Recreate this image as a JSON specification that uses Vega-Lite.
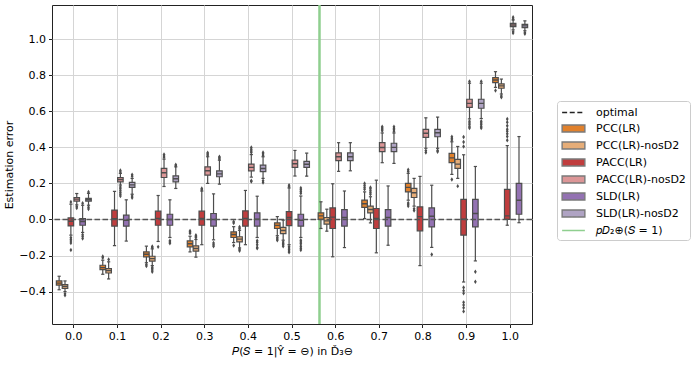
{
  "$schema": "https://vega.github.io/schema/vega-lite/v6.json",
  "width": 480,
  "height": 319,
  "autosize": {"type": "none"},
  "padding": {"left": 52, "top": 5, "right": 166, "bottom": 41},
  "background": "white",
  "config": {
    "view": {"stroke": "#222", "strokeWidth": 1},
    "font": "DejaVu Sans",
    "axis": {
      "labelFont": "DejaVu Sans", "labelFontSize": 11, "labelColor": "#000",
      "titleFont": "DejaVu Sans", "titleFontSize": 11, "titleFontWeight": "normal", "titleColor": "#000",
      "tickColor": "#222", "tickSize": 3.5, "domain": false,
      "gridColor": "#d5d5d5", "gridWidth": 1, "labelPadding": 3
    }
  },
  "datasets": {
    "boxes": [
      {"x": "0.0", "s": "PCC(LR)", "lo": -0.39, "q1": -0.364, "med": -0.353, "q3": -0.341, "hi": -0.315},
      {"x": "0.0", "s": "PCC(LR)-nosD2", "lo": -0.40, "q1": -0.383, "med": -0.372, "q3": -0.361, "hi": -0.341},
      {"x": "0.0", "s": "PACC(LR)", "lo": -0.087, "q1": -0.036, "med": -0.01, "q3": 0.009, "hi": 0.085},
      {"x": "0.0", "s": "PACC(LR)-nosD2", "lo": 0.081, "q1": 0.102, "med": 0.113, "q3": 0.122, "hi": 0.144},
      {"x": "0.0", "s": "SLD(LR)", "lo": -0.072, "q1": -0.032, "med": -0.011, "q3": 0.005, "hi": 0.079},
      {"x": "0.0", "s": "SLD(LR)-nosD2", "lo": 0.079, "q1": 0.102, "med": 0.109, "q3": 0.117, "hi": 0.145},
      {"x": "0.1", "s": "PCC(LR)", "lo": -0.304, "q1": -0.278, "med": -0.267, "q3": -0.254, "hi": -0.226},
      {"x": "0.1", "s": "PCC(LR)-nosD2", "lo": -0.33, "q1": -0.297, "med": -0.283, "q3": -0.272, "hi": -0.235},
      {"x": "0.1", "s": "PACC(LR)", "lo": -0.145, "q1": -0.037, "med": 0.004, "q3": 0.052, "hi": 0.156},
      {"x": "0.1", "s": "PACC(LR)-nosD2", "lo": 0.191, "q1": 0.209, "med": 0.222, "q3": 0.233, "hi": 0.256},
      {"x": "0.1", "s": "SLD(LR)", "lo": -0.12, "q1": -0.037, "med": -0.004, "q3": 0.024, "hi": 0.109},
      {"x": "0.1", "s": "SLD(LR)-nosD2", "lo": 0.14, "q1": 0.178, "med": 0.192, "q3": 0.206, "hi": 0.228},
      {"x": "0.2", "s": "PCC(LR)", "lo": -0.24, "q1": -0.207, "med": -0.193, "q3": -0.18, "hi": -0.148},
      {"x": "0.2", "s": "PCC(LR)-nosD2", "lo": -0.256, "q1": -0.231, "med": -0.217, "q3": -0.204, "hi": -0.163},
      {"x": "0.2", "s": "PACC(LR)", "lo": -0.122, "q1": -0.032, "med": 0.005, "q3": 0.046, "hi": 0.133},
      {"x": "0.2", "s": "PACC(LR)-nosD2", "lo": 0.183, "q1": 0.233, "med": 0.259, "q3": 0.283, "hi": 0.335},
      {"x": "0.2", "s": "SLD(LR)", "lo": -0.1, "q1": -0.032, "med": 0.0, "q3": 0.029, "hi": 0.109},
      {"x": "0.2", "s": "SLD(LR)-nosD2", "lo": 0.172, "q1": 0.209, "med": 0.226, "q3": 0.242, "hi": 0.292},
      {"x": "0.3", "s": "PCC(LR)", "lo": -0.18, "q1": -0.152, "med": -0.135, "q3": -0.119, "hi": -0.093},
      {"x": "0.3", "s": "PCC(LR)-nosD2", "lo": -0.209, "q1": -0.176, "med": -0.161, "q3": -0.146, "hi": -0.111},
      {"x": "0.3", "s": "PACC(LR)", "lo": -0.14, "q1": -0.032, "med": 0.005, "q3": 0.046, "hi": 0.158},
      {"x": "0.3", "s": "PACC(LR)-nosD2", "lo": 0.2, "q1": 0.246, "med": 0.27, "q3": 0.292, "hi": 0.348},
      {"x": "0.3", "s": "SLD(LR)", "lo": -0.113, "q1": -0.037, "med": 0.0, "q3": 0.033, "hi": 0.142},
      {"x": "0.3", "s": "SLD(LR)-nosD2", "lo": 0.196, "q1": 0.237, "med": 0.253, "q3": 0.27, "hi": 0.329},
      {"x": "0.4", "s": "PCC(LR)", "lo": -0.128, "q1": -0.1, "med": -0.083, "q3": -0.069, "hi": -0.04},
      {"x": "0.4", "s": "PCC(LR)-nosD2", "lo": -0.158, "q1": -0.124, "med": -0.109, "q3": -0.096, "hi": -0.06},
      {"x": "0.4", "s": "PACC(LR)", "lo": -0.14, "q1": -0.037, "med": 0.005, "q3": 0.048, "hi": 0.161},
      {"x": "0.4", "s": "PACC(LR)-nosD2", "lo": 0.235, "q1": 0.27, "med": 0.289, "q3": 0.307, "hi": 0.36},
      {"x": "0.4", "s": "SLD(LR)", "lo": -0.1, "q1": -0.037, "med": 0.002, "q3": 0.037, "hi": 0.129},
      {"x": "0.4", "s": "SLD(LR)-nosD2", "lo": 0.228, "q1": 0.265, "med": 0.283, "q3": 0.302, "hi": 0.348},
      {"x": "0.5", "s": "PCC(LR)", "lo": -0.09, "q1": -0.05, "med": -0.033, "q3": -0.019, "hi": 0.016},
      {"x": "0.5", "s": "PCC(LR)-nosD2", "lo": -0.115, "q1": -0.078, "med": -0.061, "q3": -0.044, "hi": -0.004},
      {"x": "0.5", "s": "PACC(LR)", "lo": -0.14, "q1": -0.034, "med": 0.011, "q3": 0.044, "hi": 0.175},
      {"x": "0.5", "s": "PACC(LR)-nosD2", "lo": 0.241, "q1": 0.289, "med": 0.309, "q3": 0.329, "hi": 0.383},
      {"x": "0.5", "s": "SLD(LR)", "lo": -0.1, "q1": -0.037, "med": -0.004, "q3": 0.029, "hi": 0.13},
      {"x": "0.5", "s": "SLD(LR)-nosD2", "lo": 0.24, "q1": 0.289, "med": 0.306, "q3": 0.322, "hi": 0.368},
      {"x": "0.6", "s": "PCC(LR)", "lo": -0.05, "q1": 0.0, "med": 0.02, "q3": 0.037, "hi": 0.098},
      {"x": "0.6", "s": "PCC(LR)-nosD2", "lo": -0.065, "q1": -0.026, "med": -0.008, "q3": 0.011, "hi": 0.057},
      {"x": "0.6", "s": "PACC(LR)", "lo": -0.207, "q1": -0.05, "med": 0.013, "q3": 0.064, "hi": 0.198},
      {"x": "0.6", "s": "PACC(LR)-nosD2", "lo": 0.267, "q1": 0.326, "med": 0.348, "q3": 0.37, "hi": 0.426},
      {"x": "0.6", "s": "SLD(LR)", "lo": -0.156, "q1": -0.037, "med": 0.011, "q3": 0.055, "hi": 0.158},
      {"x": "0.6", "s": "SLD(LR)-nosD2", "lo": 0.27, "q1": 0.326, "med": 0.348, "q3": 0.37, "hi": 0.426},
      {"x": "0.7", "s": "PCC(LR)", "lo": 0.005, "q1": 0.067, "med": 0.087, "q3": 0.107, "hi": 0.153},
      {"x": "0.7", "s": "PCC(LR)-nosD2", "lo": -0.019, "q1": 0.037, "med": 0.055, "q3": 0.074, "hi": 0.126},
      {"x": "0.7", "s": "PACC(LR)", "lo": -0.185, "q1": -0.05, "med": 0.005, "q3": 0.061, "hi": 0.218},
      {"x": "0.7", "s": "PACC(LR)-nosD2", "lo": 0.315, "q1": 0.376, "med": 0.399, "q3": 0.426, "hi": 0.48},
      {"x": "0.7", "s": "SLD(LR)", "lo": -0.143, "q1": -0.037, "med": 0.011, "q3": 0.055, "hi": 0.186},
      {"x": "0.7", "s": "SLD(LR)-nosD2", "lo": 0.311, "q1": 0.376, "med": 0.4, "q3": 0.423, "hi": 0.48},
      {"x": "0.8", "s": "PCC(LR)", "lo": 0.107, "q1": 0.153, "med": 0.178, "q3": 0.2, "hi": 0.256},
      {"x": "0.8", "s": "PCC(LR)-nosD2", "lo": 0.074, "q1": 0.122, "med": 0.148, "q3": 0.172, "hi": 0.228},
      {"x": "0.8", "s": "PACC(LR)", "lo": -0.256, "q1": -0.063, "med": 0.016, "q3": 0.07, "hi": 0.239},
      {"x": "0.8", "s": "PACC(LR)-nosD2", "lo": 0.395, "q1": 0.455, "med": 0.478, "q3": 0.5, "hi": 0.564},
      {"x": "0.8", "s": "SLD(LR)", "lo": -0.155, "q1": -0.041, "med": 0.018, "q3": 0.064, "hi": 0.19},
      {"x": "0.8", "s": "SLD(LR)-nosD2", "lo": 0.395, "q1": 0.459, "med": 0.481, "q3": 0.5, "hi": 0.568},
      {"x": "0.9", "s": "PCC(LR)", "lo": 0.25, "q1": 0.315, "med": 0.342, "q3": 0.367, "hi": 0.431},
      {"x": "0.9", "s": "PCC(LR)-nosD2", "lo": 0.228, "q1": 0.283, "med": 0.307, "q3": 0.333, "hi": 0.405},
      {"x": "0.9", "s": "PACC(LR)", "lo": -0.347, "q1": -0.087, "med": 0.001, "q3": 0.111, "hi": 0.359},
      {"x": "0.9", "s": "PACC(LR)-nosD2", "lo": 0.558, "q1": 0.622, "med": 0.644, "q3": 0.667, "hi": 0.756},
      {"x": "0.9", "s": "SLD(LR)", "lo": -0.23, "q1": -0.041, "med": 0.033, "q3": 0.111, "hi": 0.294},
      {"x": "0.9", "s": "SLD(LR)-nosD2", "lo": 0.56, "q1": 0.617, "med": 0.644, "q3": 0.667, "hi": 0.756},
      {"x": "1.0", "s": "PCC(LR)", "lo": 0.733, "q1": 0.759, "med": 0.774, "q3": 0.787, "hi": 0.82},
      {"x": "1.0", "s": "PCC(LR)-nosD2", "lo": 0.696, "q1": 0.728, "med": 0.741, "q3": 0.752, "hi": 0.779},
      {"x": "1.0", "s": "PACC(LR)", "lo": -0.032, "q1": 0.0, "med": 0.02, "q3": 0.167, "hi": 0.41},
      {"x": "1.0", "s": "PACC(LR)-nosD2", "lo": 1.052, "q1": 1.07, "med": 1.079, "q3": 1.088, "hi": 1.107},
      {"x": "1.0", "s": "SLD(LR)", "lo": -0.018, "q1": 0.029, "med": 0.107, "q3": 0.2, "hi": 0.46},
      {"x": "1.0", "s": "SLD(LR)-nosD2", "lo": 1.047, "q1": 1.064, "med": 1.074, "q3": 1.083, "hi": 1.102}
    ],
    "outliers": [
      {"x": "0.0", "s": "PCC(LR)-nosD2", "v": -0.412}, {"x": "0.0", "s": "PCC(LR)-nosD2", "v": -0.42},
      {"x": "0.0", "s": "PACC(LR)", "v": 0.097}, {"x": "0.0", "s": "PACC(LR)", "v": -0.10}, {"x": "0.0", "s": "PACC(LR)", "v": -0.11}, {"x": "0.0", "s": "PACC(LR)", "v": -0.12}, {"x": "0.0", "s": "PACC(LR)", "v": -0.13}, {"x": "0.0", "s": "PACC(LR)", "v": -0.17},
      {"x": "0.0", "s": "PACC(LR)-nosD2", "v": 0.072}, {"x": "0.0", "s": "PACC(LR)-nosD2", "v": 0.064},
      {"x": "0.0", "s": "SLD(LR)", "v": 0.09}, {"x": "0.0", "s": "SLD(LR)", "v": -0.085}, {"x": "0.0", "s": "SLD(LR)", "v": -0.095}, {"x": "0.0", "s": "SLD(LR)", "v": -0.106},
      {"x": "0.0", "s": "SLD(LR)-nosD2", "v": 0.152}, {"x": "0.0", "s": "SLD(LR)-nosD2", "v": 0.068}, {"x": "0.0", "s": "SLD(LR)-nosD2", "v": 0.058},
      {"x": "0.1", "s": "PCC(LR)", "v": -0.205}, {"x": "0.1", "s": "PCC(LR)", "v": -0.213},
      {"x": "0.1", "s": "PCC(LR)-nosD2", "v": -0.222},
      {"x": "0.1", "s": "PACC(LR)-nosD2", "v": 0.263}, {"x": "0.1", "s": "PACC(LR)-nosD2", "v": 0.272}, {"x": "0.1", "s": "PACC(LR)-nosD2", "v": 0.18}, {"x": "0.1", "s": "PACC(LR)-nosD2", "v": 0.17}, {"x": "0.1", "s": "PACC(LR)-nosD2", "v": 0.16}, {"x": "0.1", "s": "PACC(LR)-nosD2", "v": 0.15}, {"x": "0.1", "s": "PACC(LR)-nosD2", "v": 0.14}, {"x": "0.1", "s": "PACC(LR)-nosD2", "v": 0.13},
      {"x": "0.1", "s": "SLD(LR)-nosD2", "v": 0.24}, {"x": "0.1", "s": "SLD(LR)-nosD2", "v": 0.248}, {"x": "0.1", "s": "SLD(LR)-nosD2", "v": 0.13}, {"x": "0.1", "s": "SLD(LR)-nosD2", "v": 0.12},
      {"x": "0.2", "s": "PCC(LR)", "v": -0.25}, {"x": "0.2", "s": "PCC(LR)", "v": -0.258},
      {"x": "0.2", "s": "PCC(LR)-nosD2", "v": -0.15}, {"x": "0.2", "s": "PCC(LR)-nosD2", "v": -0.155}, {"x": "0.2", "s": "PCC(LR)-nosD2", "v": -0.265}, {"x": "0.2", "s": "PCC(LR)-nosD2", "v": -0.272}, {"x": "0.2", "s": "PCC(LR)-nosD2", "v": -0.28}, {"x": "0.2", "s": "PCC(LR)-nosD2", "v": -0.29},
      {"x": "0.2", "s": "PACC(LR)", "v": -0.152},
      {"x": "0.2", "s": "PACC(LR)-nosD2", "v": 0.345}, {"x": "0.2", "s": "PACC(LR)-nosD2", "v": 0.352}, {"x": "0.2", "s": "PACC(LR)-nosD2", "v": 0.36},
      {"x": "0.2", "s": "SLD(LR)", "v": -0.118}, {"x": "0.2", "s": "SLD(LR)", "v": -0.125}, {"x": "0.2", "s": "SLD(LR)", "v": -0.132},
      {"x": "0.2", "s": "SLD(LR)-nosD2", "v": 0.298}, {"x": "0.2", "s": "SLD(LR)-nosD2", "v": 0.304},
      {"x": "0.3", "s": "PCC(LR)", "v": -0.064}, {"x": "0.3", "s": "PCC(LR)", "v": -0.07}, {"x": "0.3", "s": "PCC(LR)", "v": -0.076},
      {"x": "0.3", "s": "PCC(LR)-nosD2", "v": -0.088}, {"x": "0.3", "s": "PCC(LR)-nosD2", "v": -0.095}, {"x": "0.3", "s": "PCC(LR)-nosD2", "v": -0.1},
      {"x": "0.3", "s": "PACC(LR)", "v": 0.165}, {"x": "0.3", "s": "PACC(LR)", "v": 0.172},
      {"x": "0.3", "s": "PACC(LR)-nosD2", "v": 0.356}, {"x": "0.3", "s": "PACC(LR)-nosD2", "v": 0.363}, {"x": "0.3", "s": "PACC(LR)-nosD2", "v": 0.37},
      {"x": "0.3", "s": "SLD(LR)", "v": -0.13}, {"x": "0.3", "s": "SLD(LR)", "v": -0.14}, {"x": "0.3", "s": "SLD(LR)", "v": -0.148},
      {"x": "0.3", "s": "SLD(LR)-nosD2", "v": 0.336}, {"x": "0.3", "s": "SLD(LR)-nosD2", "v": 0.342}, {"x": "0.3", "s": "SLD(LR)-nosD2", "v": 0.348},
      {"x": "0.4", "s": "PCC(LR)", "v": -0.012}, {"x": "0.4", "s": "PCC(LR)", "v": -0.02}, {"x": "0.4", "s": "PCC(LR)", "v": -0.145},
      {"x": "0.4", "s": "PCC(LR)-nosD2", "v": -0.042}, {"x": "0.4", "s": "PCC(LR)-nosD2", "v": -0.05}, {"x": "0.4", "s": "PCC(LR)-nosD2", "v": -0.165}, {"x": "0.4", "s": "PCC(LR)-nosD2", "v": -0.173},
      {"x": "0.4", "s": "PACC(LR)-nosD2", "v": 0.372}, {"x": "0.4", "s": "PACC(LR)-nosD2", "v": 0.38}, {"x": "0.4", "s": "PACC(LR)-nosD2", "v": 0.39}, {"x": "0.4", "s": "PACC(LR)-nosD2", "v": 0.4}, {"x": "0.4", "s": "PACC(LR)-nosD2", "v": 0.215}, {"x": "0.4", "s": "PACC(LR)-nosD2", "v": 0.21},
      {"x": "0.4", "s": "SLD(LR)", "v": -0.118}, {"x": "0.4", "s": "SLD(LR)", "v": -0.127}, {"x": "0.4", "s": "SLD(LR)", "v": -0.14}, {"x": "0.4", "s": "SLD(LR)", "v": -0.155}, {"x": "0.4", "s": "SLD(LR)", "v": -0.16},
      {"x": "0.4", "s": "SLD(LR)-nosD2", "v": 0.356}, {"x": "0.4", "s": "SLD(LR)-nosD2", "v": 0.364}, {"x": "0.4", "s": "SLD(LR)-nosD2", "v": 0.372}, {"x": "0.4", "s": "SLD(LR)-nosD2", "v": 0.215}, {"x": "0.4", "s": "SLD(LR)-nosD2", "v": 0.205},
      {"x": "0.5", "s": "PCC(LR)", "v": -0.1}, {"x": "0.5", "s": "PCC(LR)", "v": -0.108}, {"x": "0.5", "s": "PCC(LR)", "v": -0.115},
      {"x": "0.5", "s": "PCC(LR)-nosD2", "v": -0.125}, {"x": "0.5", "s": "PCC(LR)-nosD2", "v": -0.133}, {"x": "0.5", "s": "PCC(LR)-nosD2", "v": -0.14}, {"x": "0.5", "s": "PCC(LR)-nosD2", "v": -0.148},
      {"x": "0.5", "s": "PACC(LR)", "v": 0.183}, {"x": "0.5", "s": "PACC(LR)", "v": 0.19}, {"x": "0.5", "s": "PACC(LR)", "v": -0.15}, {"x": "0.5", "s": "PACC(LR)", "v": -0.158}, {"x": "0.5", "s": "PACC(LR)", "v": -0.166}, {"x": "0.5", "s": "PACC(LR)", "v": -0.175}, {"x": "0.5", "s": "PACC(LR)", "v": -0.182},
      {"x": "0.5", "s": "SLD(LR)", "v": 0.145}, {"x": "0.5", "s": "SLD(LR)", "v": 0.155}, {"x": "0.5", "s": "SLD(LR)", "v": 0.165}, {"x": "0.5", "s": "SLD(LR)", "v": 0.175},
      {"x": "0.5", "s": "SLD(LR)", "v": -0.115}, {"x": "0.5", "s": "SLD(LR)", "v": -0.125}, {"x": "0.5", "s": "SLD(LR)", "v": -0.135}, {"x": "0.5", "s": "SLD(LR)", "v": -0.148}, {"x": "0.5", "s": "SLD(LR)", "v": -0.16}, {"x": "0.5", "s": "SLD(LR)", "v": -0.17},
      {"x": "0.7", "s": "PCC(LR)", "v": 0.168}, {"x": "0.7", "s": "PCC(LR)", "v": 0.178}, {"x": "0.7", "s": "PCC(LR)", "v": 0.188}, {"x": "0.7", "s": "PCC(LR)", "v": 0.2},
      {"x": "0.7", "s": "PCC(LR)-nosD2", "v": 0.14}, {"x": "0.7", "s": "PCC(LR)-nosD2", "v": 0.15}, {"x": "0.7", "s": "PCC(LR)-nosD2", "v": 0.16}, {"x": "0.7", "s": "PCC(LR)-nosD2", "v": 0.17}, {"x": "0.7", "s": "PCC(LR)-nosD2", "v": 0.178},
      {"x": "0.7", "s": "PACC(LR)-nosD2", "v": 0.492}, {"x": "0.7", "s": "PACC(LR)-nosD2", "v": 0.5}, {"x": "0.7", "s": "PACC(LR)-nosD2", "v": 0.508}, {"x": "0.7", "s": "PACC(LR)-nosD2", "v": 0.515},
      {"x": "0.7", "s": "SLD(LR)-nosD2", "v": 0.49}, {"x": "0.7", "s": "SLD(LR)-nosD2", "v": 0.498}, {"x": "0.7", "s": "SLD(LR)-nosD2", "v": 0.506}, {"x": "0.7", "s": "SLD(LR)-nosD2", "v": 0.514},
      {"x": "0.8", "s": "PCC(LR)", "v": 0.266}, {"x": "0.8", "s": "PCC(LR)", "v": 0.276}, {"x": "0.8", "s": "PCC(LR)", "v": 0.092}, {"x": "0.8", "s": "PCC(LR)", "v": 0.084}, {"x": "0.8", "s": "PCC(LR)", "v": 0.075},
      {"x": "0.8", "s": "PCC(LR)-nosD2", "v": 0.06}, {"x": "0.8", "s": "PCC(LR)-nosD2", "v": 0.05},
      {"x": "0.8", "s": "PACC(LR)-nosD2", "v": 0.382}, {"x": "0.8", "s": "PACC(LR)-nosD2", "v": 0.372},
      {"x": "0.8", "s": "SLD(LR)", "v": -0.194},
      {"x": "0.8", "s": "SLD(LR)-nosD2", "v": 0.383}, {"x": "0.8", "s": "SLD(LR)-nosD2", "v": 0.376},
      {"x": "0.9", "s": "PCC(LR)", "v": 0.441}, {"x": "0.9", "s": "PCC(LR)", "v": 0.45}, {"x": "0.9", "s": "PCC(LR)", "v": 0.459}, {"x": "0.9", "s": "PCC(LR)", "v": 0.222},
      {"x": "0.9", "s": "PCC(LR)-nosD2", "v": 0.185},
      {"x": "0.9", "s": "PACC(LR)", "v": 0.405}, {"x": "0.9", "s": "PACC(LR)", "v": 0.43}, {"x": "0.9", "s": "PACC(LR)", "v": 0.458}, {"x": "0.9", "s": "PACC(LR)", "v": -0.378}, {"x": "0.9", "s": "PACC(LR)", "v": -0.395}, {"x": "0.9", "s": "PACC(LR)", "v": -0.41}, {"x": "0.9", "s": "PACC(LR)", "v": -0.46}, {"x": "0.9", "s": "PACC(LR)", "v": -0.475}, {"x": "0.9", "s": "PACC(LR)", "v": -0.49}, {"x": "0.9", "s": "PACC(LR)", "v": -0.51},
      {"x": "0.9", "s": "PACC(LR)-nosD2", "v": 0.766}, {"x": "0.9", "s": "PACC(LR)-nosD2", "v": 0.545}, {"x": "0.9", "s": "PACC(LR)-nosD2", "v": 0.535}, {"x": "0.9", "s": "PACC(LR)-nosD2", "v": 0.525}, {"x": "0.9", "s": "PACC(LR)-nosD2", "v": 0.515}, {"x": "0.9", "s": "PACC(LR)-nosD2", "v": 0.507},
      {"x": "0.9", "s": "SLD(LR)", "v": -0.29}, {"x": "0.9", "s": "SLD(LR)", "v": -0.345},
      {"x": "0.9", "s": "SLD(LR)-nosD2", "v": 0.766}, {"x": "0.9", "s": "SLD(LR)-nosD2", "v": 0.545}, {"x": "0.9", "s": "SLD(LR)-nosD2", "v": 0.535}, {"x": "0.9", "s": "SLD(LR)-nosD2", "v": 0.525}, {"x": "0.9", "s": "SLD(LR)-nosD2", "v": 0.515}, {"x": "0.9", "s": "SLD(LR)-nosD2", "v": 0.507},
      {"x": "1.0", "s": "PCC(LR)", "v": 0.715},
      {"x": "1.0", "s": "PCC(LR)-nosD2", "v": 0.685}, {"x": "1.0", "s": "PCC(LR)-nosD2", "v": 0.678},
      {"x": "1.0", "s": "PACC(LR)", "v": 0.44}, {"x": "1.0", "s": "PACC(LR)", "v": 0.46}, {"x": "1.0", "s": "PACC(LR)", "v": 0.475}, {"x": "1.0", "s": "PACC(LR)", "v": 0.49}, {"x": "1.0", "s": "PACC(LR)", "v": 0.5}, {"x": "1.0", "s": "PACC(LR)", "v": 0.52}, {"x": "1.0", "s": "PACC(LR)", "v": 0.54}, {"x": "1.0", "s": "PACC(LR)", "v": 0.557},
      {"x": "1.0", "s": "PACC(LR)-nosD2", "v": 1.112}, {"x": "1.0", "s": "PACC(LR)-nosD2", "v": 1.122}, {"x": "1.0", "s": "PACC(LR)-nosD2", "v": 1.042}, {"x": "1.0", "s": "PACC(LR)-nosD2", "v": 1.034},
      {"x": "1.0", "s": "SLD(LR)-nosD2", "v": 1.037}, {"x": "1.0", "s": "SLD(LR)-nosD2", "v": 1.03}
    ]
  },
  "resolve": {"scale": {"x": "independent"}},
  "layer": [
    {
      "data": {"values": [{"p": 0.563}]},
      "mark": {"type": "rule", "color": "#8fcf8f", "strokeWidth": 2.5},
      "encoding": {
        "x": {"field": "p", "type": "quantitative", "scale": {"domain": [-0.05, 1.05], "nice": false, "zero": false}, "axis": null}
      }
    },
    {
      "encoding": {
        "x": {
          "field": "x", "type": "nominal",
          "scale": {"domain": ["0.0","0.1","0.2","0.3","0.4","0.5","0.6","0.7","0.8","0.9","1.0"], "paddingInner": 0.2, "paddingOuter": 0.1},
          "axis": {"title": "𝑃(𝑆 = 1|Ŷ = ⊖) in Ď₃⊖", "labelAngle": 0, "bandPosition": 0.5, "grid": true, "titlePadding": 4}
        },
        "xOffset": {
          "field": "s", "type": "nominal",
          "scale": {"domain": ["PCC(LR)", "PCC(LR)-nosD2", "PACC(LR)", "PACC(LR)-nosD2", "SLD(LR)", "SLD(LR)-nosD2"], "paddingInner": 0.06, "paddingOuter": 0}
        }
      },
      "layer": [
        {
          "data": {"name": "boxes"},
          "mark": {"type": "rule", "color": "#4d4d4d", "strokeWidth": 1.2},
          "encoding": {
            "y": {"field": "lo", "type": "quantitative", "scale": {"domain": [-0.58, 1.19], "nice": false, "zero": false}, "axis": {"values": [-0.4, -0.2, 0, 0.2, 0.4, 0.6, 0.8, 1.0], "format": ".1f", "title": "Estimation error", "grid": true}},
            "y2": {"field": "hi"}
          }
        },
        {
          "data": {"name": "boxes"},
          "mark": {"type": "tick", "orient": "horizontal", "color": "#4d4d4d", "size": 3.2, "thickness": 1.2, "opacity": 1},
          "encoding": {
            "y": {"field": "lo", "type": "quantitative", "scale": {"domain": [-0.58, 1.19], "nice": false, "zero": false}, "axis": {"title": "Estimation error"}}
          }
        },
        {
          "data": {"name": "boxes"},
          "mark": {"type": "tick", "orient": "horizontal", "color": "#4d4d4d", "size": 3.2, "thickness": 1.2, "opacity": 1},
          "encoding": {
            "y": {"field": "hi", "type": "quantitative", "scale": {"domain": [-0.58, 1.19], "nice": false, "zero": false}, "axis": {"title": "Estimation error"}}
          }
        },
        {
          "data": {"name": "boxes"},
          "mark": {"type": "bar", "stroke": "#4d4d4d", "strokeWidth": 1.2, "opacity": 1},
          "encoding": {
            "y": {"field": "q1", "type": "quantitative", "scale": {"domain": [-0.58, 1.19], "nice": false, "zero": false}, "axis": {"title": "Estimation error"}},
            "y2": {"field": "q3"},
            "color": {
              "field": "s", "type": "nominal",
              "scale": {
                "domain": ["optimal", "PCC(LR)", "PCC(LR)-nosD2", "PACC(LR)", "PACC(LR)-nosD2", "SLD(LR)", "SLD(LR)-nosD2", "𝑝𝐷₂⊕(𝑆 = 1)"],
                "range": ["#222222", "#e1812c", "#e6ad78", "#c03d3e", "#dc9697", "#9372b2", "#afa3c3", "#8fcf8f"]
              },
              "legend": {
                "title": null, "orient": "none", "legendX": 505, "legendY": 96,
                "labelFont": "DejaVu Sans", "labelFontSize": 11, "labelColor": "#000",
                "symbolSize": 169, "labelOffset": 15, "symbolOffset": 5, "rowPadding": 3,
                "padding": 4, "strokeColor": "#cccccc", "cornerRadius": 3, "fillColor": "#ffffff",
                "symbolType": {"expr": "datum.value === 'optimal' || indexof(datum.value, '⊕') >= 0 ? 'M-1.75,0H1.75' : 'M-1.75,-0.54H1.75V0.54H-1.75Z'"},
                "symbolStrokeColor": {"expr": "datum.value === 'optimal' ? '#222222' : indexof(datum.value, '⊕') >= 0 ? '#8fcf8f' : '#7a7a7a'"},
                "symbolDash": {"expr": "datum.value === 'optimal' ? [5, 2.6] : [1, 0]"},
                "symbolStrokeWidth": 1.4,
                "symbolOpacity": 1
              }
            }
          }
        },
        {
          "data": {"name": "boxes"},
          "mark": {"type": "bar", "fillOpacity": 0, "stroke": "#4d4d4d", "strokeWidth": 1.4},
          "encoding": {
            "y": {"field": "med", "type": "quantitative", "scale": {"domain": [-0.58, 1.19], "nice": false, "zero": false}, "axis": {"title": "Estimation error"}},
            "y2": {"field": "med"}
          }
        },
        {
          "data": {"name": "outliers"},
          "mark": {"type": "point", "filled": true, "shape": "M0,-1L0.62,0L0,1L-0.62,0Z", "size": 20, "color": "#4d4d4d", "opacity": 1},
          "encoding": {
            "y": {"field": "v", "type": "quantitative", "scale": {"domain": [-0.58, 1.19], "nice": false, "zero": false}, "axis": {"title": "Estimation error"}}
          }
        }
      ]
    },
    {
      "data": {"values": [{"v": 0}]},
      "mark": {"type": "rule", "color": "#555555", "strokeWidth": 1.5, "strokeDash": [5.5, 2.5]},
      "encoding": {
        "y": {"field": "v", "type": "quantitative", "scale": {"domain": [-0.58, 1.19], "nice": false, "zero": false}, "axis": {"title": "Estimation error"}}
      }
    }
  ]
}
